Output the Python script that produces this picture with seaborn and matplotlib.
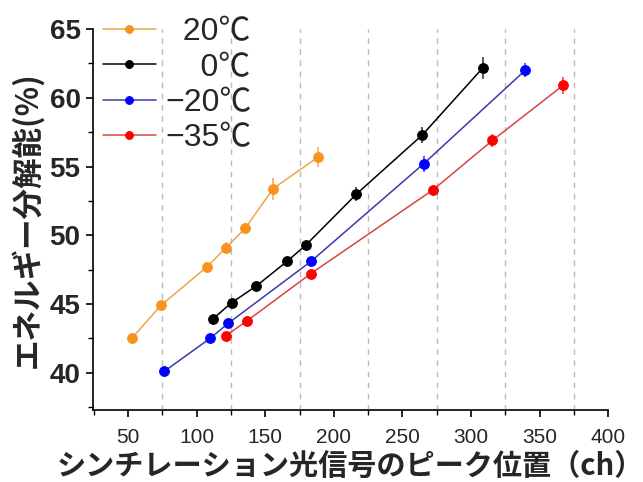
import matplotlib
matplotlib.use("Agg")
import matplotlib.pyplot as plt
import seaborn as sns
import pandas as pd
import numpy as np
from matplotlib.ticker import MultipleLocator

sns.set_theme(style="ticks")
plt.rcParams['font.family'] = ['Liberation Sans', 'Noto Sans CJK JP', 'DejaVu Sans']

labels = ["20℃", "0℃", "−20℃", "−35℃"]
pad_labels = ["\u2007" + labels[0], "\u2007\u2007" + labels[1], labels[2], labels[3]]

x_20 = [52.7, 73.9, 107.5, 121.4, 135.3, 155.8, 188.7]
y_20 = [42.5, 44.9, 47.7, 49.1, 50.5, 53.4, 55.7]
e_20 = [0.3, 0.3, 0.3, 0.4, 0.4, 0.8, 0.7]

x_0 = [111.6, 125.5, 143.3, 165.8, 179.7, 216.5, 264.5, 308.8]
y_0 = [43.9, 45.1, 46.3, 48.1, 49.3, 53.0, 57.3, 62.2]
e_0 = [0.2, 0.3, 0.3, 0.3, 0.3, 0.5, 0.6, 0.8]

x_m20 = [76.3, 109.7, 123.0, 183.3, 265.4, 339.5]
y_m20 = [40.1, 42.5, 43.6, 48.1, 55.2, 62.0]
e_m20 = [0.2, 0.2, 0.2, 0.3, 0.6, 0.5]

x_m35 = [121.2, 137.0, 183.0, 272.2, 315.6, 367.0]
y_m35 = [42.7, 43.8, 47.2, 53.3, 56.9, 60.9]
e_m35 = [0.2, 0.3, 0.3, 0.3, 0.5, 0.6]

series = [(x_20, y_20, e_20), (x_0, y_0, e_0), (x_m20, y_m20, e_m20), (x_m35, y_m35, e_m35)]
marker_colors = ["#F7931E", "#000000", "#0000FF", "#FF0000"]
line_colors = ["#ECA648", "#000000", "#3A3AAE", "#D84444"]

fig = plt.figure(figsize=(6.43, 4.82), dpi=100)
ax = fig.add_axes([93 / 643, 1 - 410 / 482, (608.3 - 93) / 643, (410 - 29) / 482])

for (xs, ys, es), lab, mc, lc in zip(series, pad_labels, marker_colors, line_colors):
    df = pd.DataFrame({"x": xs, "y": ys})
    ax.errorbar(xs, ys, yerr=es, fmt="none", ecolor=mc, elinewidth=1.2, capsize=0, zorder=2, alpha=0.75)
    sns.lineplot(data=df, x="x", y="y", ax=ax, color=lc, marker="o", markersize=7,
                 markerfacecolor=mc, markeredgecolor=mc, linewidth=1.1, label=lab,
                 sort=False, zorder=3)

ax.set_xlim(24.5, 400)
ax.set_ylim(37.3, 65)
ax.xaxis.set_major_locator(MultipleLocator(50))
ax.xaxis.set_minor_locator(MultipleLocator(25))
ax.yaxis.set_major_locator(MultipleLocator(5))
ax.yaxis.set_minor_locator(MultipleLocator(2.5))
ax.grid(False)
for xv in np.arange(75, 400, 50):
    ax.axvline(xv, color="#BBBBBB", linestyle=(0, (4, 4)), linewidth=1.0, zorder=0)

for s in ["top", "right"]:
    ax.spines[s].set_visible(False)
for s in ["left", "bottom"]:
    ax.spines[s].set_color("black")
    ax.spines[s].set_linewidth(1.2)

ax.tick_params(axis="both", which="major", direction="out", length=5, width=1.2, color="black")
ax.tick_params(axis="both", which="minor", direction="out", length=3.5, width=1.0, color="black")
ax.tick_params(axis="y", which="major", labelsize=20, pad=4)
ax.tick_params(axis="x", which="major", labelsize=15, pad=8)
for t in ax.get_yticklabels():
    t.set_fontweight("bold")

ax.set_xlabel("シンチレーション光信号のピーク位置（ch）", fontsize=21, fontweight="bold",
              family=['Noto Sans CJK JP', 'DejaVu Sans'], labelpad=3)
ax.set_ylabel("エネルギー分解能(%)", fontsize=22, fontweight="bold",
              family=['Noto Sans CJK JP', 'DejaVu Sans'], labelpad=4)

leg = ax.legend(loc="upper left", bbox_to_anchor=(0.0, 1.056), frameon=False,
                fontsize=23, handlelength=1.66, handletextpad=0.3, labelspacing=0.17,
                borderaxespad=0.0, borderpad=0.3, markerscale=0.8)

fig.savefig("out.png", dpi=100)
